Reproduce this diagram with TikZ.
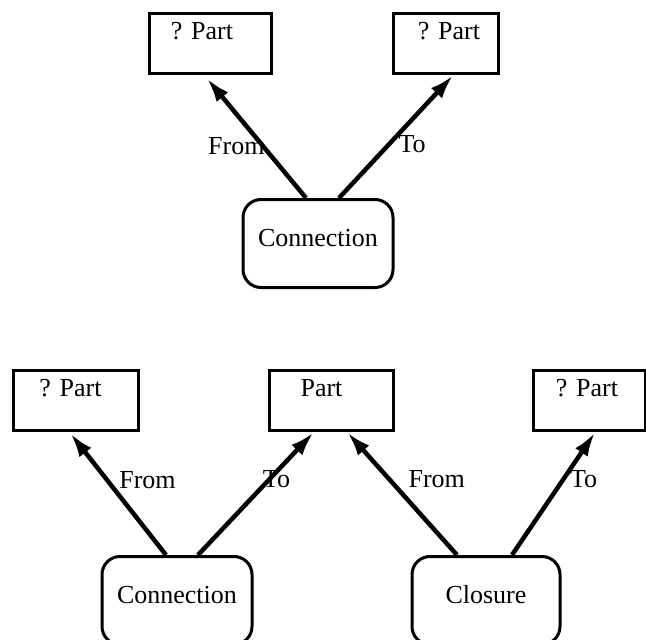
\documentclass[tikz,border=0pt]{standalone}
\usepackage{fontspec}
\setmainfont{Liberation Serif}
\usetikzlibrary{arrows.meta}
\begin{document}
\begin{tikzpicture}[x=1pt,y=-1pt,
  every node/.style={font=\fontsize{26}{30}\selectfont},
  partbox/.style={draw,line width=3pt,minimum width=122pt,inner sep=0pt,text height=26pt,text depth=34pt},
  relbox/.style={draw,line width=3pt,rounded corners=18pt,minimum width=150pt,inner sep=0pt,text height=47pt,text depth=41pt},
  rel/.style={line width=4.5pt,-{Latex[length=24pt,width=15pt]}},
  lbl/.style={anchor=base,inner sep=0pt}]
\useasboundingbox (0,0) rectangle (646,640);
% top diagram
\node[partbox] (p1) at (210,43) {? Part\kern16pt};
\node[partbox,minimum width=105pt] (p2) at (446,43) {\kern6pt? Part};
\node[relbox] (c1) at (318,243.5) {Connection};
\draw[rel] ([xshift=-12pt]c1.north) -- node[lbl,pos=0.36,xshift=-34pt] {From} ([xshift=-3pt,yshift=-4pt]p1.south);
\draw[rel] ([xshift=21pt]c1.north) -- node[lbl,pos=0.37,xshift=31pt] {To} ([xshift=7pt,yshift=-1pt]p2.south);
% bottom diagram
\node[partbox,minimum width=125pt] (q1) at (75.5,400) {? Part\kern10pt};
\node[partbox,minimum width=124pt] (q2) at (331.5,400) {Part\kern20pt};
\node[partbox,minimum width=112pt] (q3) at (589,400) {? Part\kern4pt};
\node[relbox] (c2) at (177,600.5) {Connection};
\node[relbox,minimum width=148pt] (c3) at (486,600.5) {Closure};
\draw[rel] ([xshift=-11pt]c2.north) -- node[lbl,pos=0.55,xshift=34pt] {From} ([xshift=-5pt,yshift=-2pt]q1.south);
\draw[rel] ([xshift=21pt]c2.north) -- node[lbl,pos=0.55,xshift=15pt] {To} ([xshift=-18pt,yshift=-1pt]q2.south);
\draw[rel] ([xshift=-29pt]c3.north) -- node[lbl,pos=0.55,xshift=40pt] {From} ([xshift=16pt,yshift=-1pt]q2.south);
\draw[rel] ([xshift=26pt]c3.north) -- node[lbl,pos=0.55,xshift=26pt] {To} ([xshift=6pt,yshift=-1pt]q3.south);
\end{tikzpicture}
\end{document}
